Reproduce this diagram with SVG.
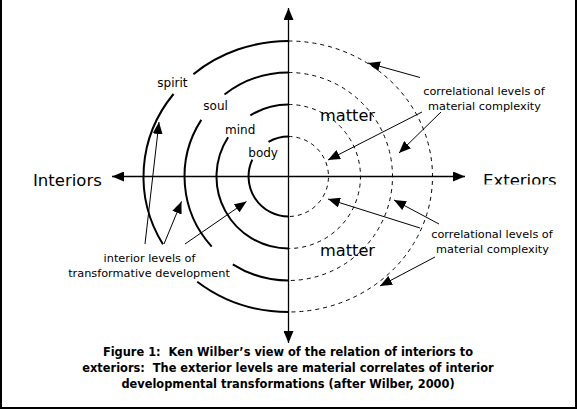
<svg xmlns="http://www.w3.org/2000/svg" width="577" height="409" viewBox="0 0 577 409">
<defs>
<style>
text{font-family:"DejaVu Sans","Liberation Sans",sans-serif;fill:#000}
.lvl{font-size:12px}
.note{font-size:11.3px;text-anchor:middle}
.big{font-size:16.5px}
.matter{font-size:16.2px}
.cap{font-size:11.4px;font-weight:bold;text-anchor:middle;white-space:pre}
.solid{fill:none;stroke:#000;stroke-width:2}
.dash{fill:none;stroke:#000;stroke-width:1;stroke-dasharray:4 4}
.axis{stroke:#000;stroke-width:1.3;fill:none;marker-end:url(#ah)}
.ptr{stroke:#000;stroke-width:1;fill:none;marker-end:url(#ah)}
.frame{fill:#000}
</style>
<marker id="ah" viewBox="0 0 12 10" refX="12" refY="5" markerWidth="12" markerHeight="10" markerUnits="userSpaceOnUse" orient="auto"><path d="M0,0L12,5L0,10z" fill="#000"/></marker>
<clipPath id="clipExt"><rect x="470" y="160" width="100" height="24.5"/></clipPath>
</defs>
<rect width="577" height="409" fill="#fff"/>
<g id="frame">
<rect class="frame" x="0" y="0" width="2" height="409"/>
<rect class="frame" x="575" y="0" width="2" height="409"/>
<rect class="frame" x="0" y="407" width="577" height="2"/>
</g>
<g id="axes">
<line class="axis" x1="288.5" y1="176.5" x2="288.5" y2="8"/>
<line class="axis" x1="288.5" y1="176.5" x2="288.5" y2="343"/>
<line class="axis" x1="288.5" y1="176.5" x2="112" y2="176.5"/>
<line class="axis" x1="288.5" y1="176.5" x2="465" y2="176.5"/>
</g>
<g id="ring-body">
<path class="solid" d="M288.5,136.5A40,40 0 0,0 268.5,141.9"/>
<path class="solid" d="M252.3,159.6A40,40 0 0,0 288.5,216.5"/>
<path class="dash" d="M288.5,136.5A40,40 0 0,1 288.5,216.5"/>
<text class="lvl" x="248.3" y="156.5">body</text>
</g>
<g id="ring-mind">
<path class="solid" d="M288.5,104.5A72,72 0 0,0 250.3,115.4"/>
<path class="solid" d="M228.1,137.3A72,72 0 0,0 288.5,248.5"/>
<path class="dash" d="M288.5,104.5A72,72 0 0,1 288.5,248.5"/>
<text class="lvl" x="225" y="134">mind</text>
</g>
<g id="ring-soul">
<path class="solid" d="M288.5,72.5A104,104 0 0,0 224.5,94.5"/>
<path class="solid" d="M201.3,119.9A104,104 0 0,0 211.7,246.6"/>
<path class="solid" d="M232.8,264.3A104,104 0 0,0 288.5,280.5"/>
<path class="dash" d="M288.5,72.5A104,104 0 0,1 288.5,280.5"/>
<text class="lvl" x="203.3" y="110">soul</text>
</g>
<g id="ring-spirit">
<path class="solid" d="M288.5,41A145,135.5 0 0,0 193.4,74.2"/>
<path class="solid" d="M173.5,94A145,135.5 0 0,0 162.9,244.25"/>
<path class="solid" d="M197.25,281.8A145,135.5 0 0,0 288.5,312"/>
<path class="dash" d="M288.5,41A144,135.5 0 0,1 288.5,312"/>
<text class="lvl" x="157.3" y="86.5">spirit</text>
</g>
<g id="label-interiors"><text class="big" x="33" y="185.5">Interiors</text></g>
<g id="label-exteriors"><text class="big" x="483" y="185.5" clip-path="url(#clipExt)">Exteriors</text></g>
<g id="label-matter-top"><text class="matter" x="320" y="121">matter</text></g>
<g id="label-matter-bottom"><text class="matter" x="320" y="256">matter</text></g>
<g id="note-upper-right">
<text class="note" x="484" y="95">correlational levels of</text>
<text class="note" x="484.5" y="110">material complexity</text>
</g>
<g id="note-lower-right">
<text class="note" x="492" y="238">correlational levels of</text>
<text class="note" x="492.5" y="253">material complexity</text>
</g>
<g id="note-left">
<text class="note" x="149.5" y="262">interior levels of</text>
<text class="note" x="149" y="277">transformative development</text>
</g>
<g id="connectors">
<line class="ptr" x1="420" y1="77.5" x2="368" y2="63"/>
<line class="ptr" x1="422" y1="112" x2="328" y2="160"/>
<line class="ptr" x1="441" y1="112" x2="399" y2="153"/>
<line class="ptr" x1="420" y1="228" x2="328" y2="199"/>
<line class="ptr" x1="439" y1="224" x2="394" y2="200"/>
<line class="ptr" x1="435" y1="257" x2="380" y2="286"/>
<line class="ptr" x1="145" y1="244" x2="159" y2="122"/>
<line class="ptr" x1="164" y1="244" x2="181.5" y2="201.5"/>
<line class="ptr" x1="185" y1="244" x2="246.5" y2="201.5"/>
</g>
<g id="caption">
<text class="cap" x="288" y="355.5" xml:space="preserve">Figure 1:  Ken Wilber’s view of the relation of interiors to</text>
<text class="cap" x="288" y="371.5" xml:space="preserve">exteriors:  The exterior levels are material correlates of interior</text>
<text class="cap" x="288" y="387.5" xml:space="preserve">developmental transformations (after Wilber, 2000)</text>
</g>
</svg>
